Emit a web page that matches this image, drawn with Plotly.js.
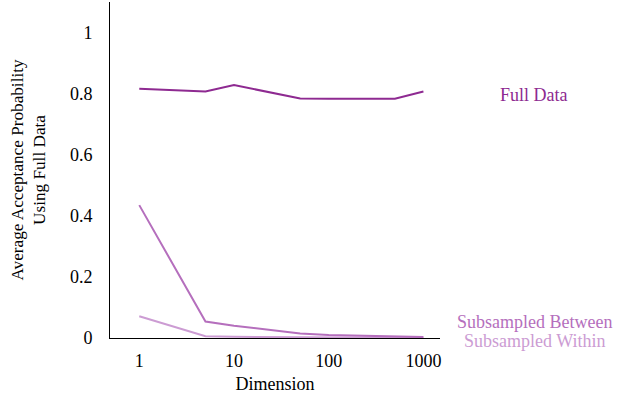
<!DOCTYPE html>
<html>
<head>
<meta charset="utf-8">
<script src="https://cdn.plot.ly/plotly-3.0.1.min.js"></script>
<style>html,body{margin:0;padding:0;background:#fff;}#chart{width:621px;height:400px;}</style>
</head>
<body>
<div id="chart"></div>
<script>
const dimensions = [1, 5, 10, 50, 100, 500, 1000];
const fullData = [0.816, 0.807, 0.828, 0.784, 0.783, 0.783, 0.807];
const subBetween = [0.435, 0.054, 0.040, 0.015, 0.010, 0.005, 0.003];
const subWithin = [0.071, 0.006, 0.004, 0.002, 0.002, 0.001, 0.001];
const seriesNames = ["Full Data", "Subsampled Between", "Subsampled Within"];
const xTickVals = [1, 10, 100, 1000];
const xTickText = ["1", "10", "100", "1000"];
const yTickVals = [0, 0.2, 0.4, 0.6, 0.8, 1];
const yTickText = ["0", "0.2", "0.4", "0.6", "0.8", "1"];

const colors = ["#8e2a91", "#b56fbd", "#cc9cd3"];
const family = "Liberation Serif, Times New Roman, serif";
const font = {family: family, size: 18, color: "#000"};

const traces = [subWithin, subBetween, fullData].map((ys, i) => {
  const idx = 2 - i;
  return {x: dimensions, y: ys, type: "scatter", mode: "lines", name: seriesNames[idx],
          line: {color: colors[idx], width: 2}, hoverinfo: "skip", cliponaxis: false};
});

const labelY = [0.723, 0.049, -0.009];
const annotations = seriesNames.map((n, i) => ({
  text: n, xref: "paper", yref: "paper", x: 1.285, y: labelY[i],
  xanchor: "center", yanchor: "middle", showarrow: false,
  font: {family: family, size: 18, color: colors[i]}
}));

const layout = {
  width: 621, height: 400,
  margin: {l: 110, r: 181, t: 2, b: 62},
  paper_bgcolor: "#fff", plot_bgcolor: "#fff",
  font: font,
  showlegend: false,
  xaxis: {type: "log", range: [-0.309, 3.175], tickvals: xTickVals, ticktext: xTickText,
          showgrid: false, zeroline: false, showline: true, linecolor: "#000", linewidth: 1,
          ticks: "", ticklabelstandoff: 6,
          title: {text: "Dimension", font: font, standoff: 7}},
  yaxis: {range: [0, 1.1], tickvals: yTickVals, ticktext: yTickText,
          showgrid: false, zeroline: false, showline: true, linecolor: "#000", linewidth: 1,
          ticks: "", ticklabelstandoff: 13,
          title: {text: "Average Acceptance Probability<br>Using Full Data",
                  font: {family: family, size: 17.2, color: "#000"}, standoff: 19}},
  annotations: annotations
};

Plotly.newPlot("chart", traces, layout, {displayModeBar: false, staticPlot: true});
</script>
</body>
</html>
